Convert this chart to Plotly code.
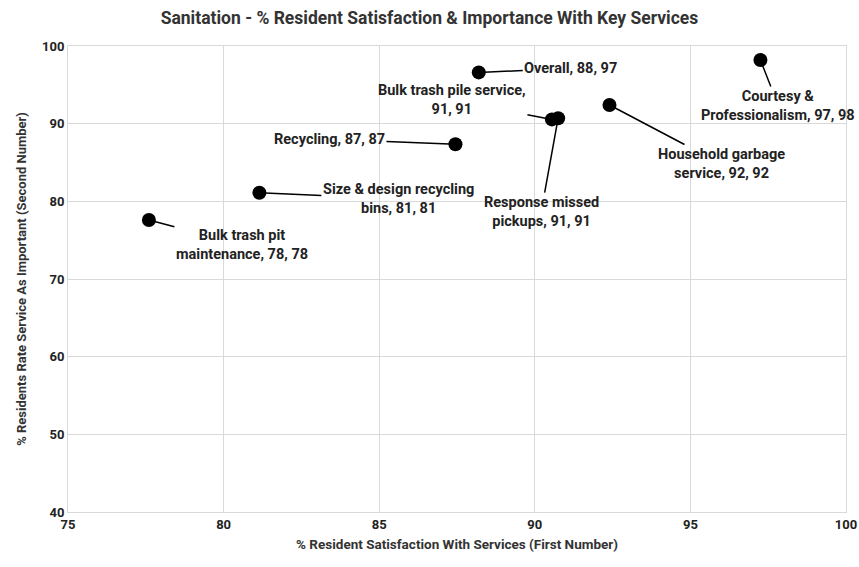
import plotly.graph_objects as go

services = ["Bulk trash pit<br>maintenance", "Size & design recycling<br>bins", "Recycling",
            "Overall", "Bulk trash pile service,<br>", "Response missed<br>pickups",
            "Household garbage<br>service", "Courtesy &<br>Professionalism"]
satisfaction = [77.6, 81.15, 87.45, 88.2, 90.55, 90.75, 92.4, 97.25]
importance = [77.6, 81.1, 87.35, 96.6, 90.55, 90.7, 92.4, 98.2]
sat_labels = [78, 81, 87, 88, 91, 91, 92, 97]
imp_labels = [78, 81, 87, 97, 91, 91, 92, 98]

# label offsets (px) from point to label centre
label_dx = [93, 139, -126, 92, -100, -17, 112, 18]
label_dy = [25, 6, -5, -4, -19, 94, 59, 46]

FONT = "Roboto, sans-serif"

fig = go.Figure()
fig.add_trace(go.Scatter(x=satisfaction, y=importance, mode="markers",
                         marker=dict(color="black", size=14), hoverinfo="skip"))

for name, xv, yv, s, i, dx, dy in zip(services, satisfaction, importance, sat_labels, imp_labels, label_dx, label_dy):
    if name.endswith(",<br>"):
        text = f"{name}{s}, {i}"
    else:
        text = f"{name}, {s}, {i}"
    fig.add_annotation(x=xv, y=yv, text=text, showarrow=True, arrowhead=0,
                       arrowwidth=1.5, arrowcolor="black", ax=dx, ay=dy, standoff=0,
                       font=dict(family=FONT, size=14.5, color="#222", weight="bold"), align="center")

grid = "#d9d9d9"
W, H = 859, 567
fig.update_layout(
    width=W, height=H,
    margin=dict(l=68, r=13, t=46, b=55, autoexpand=False),
    paper_bgcolor="white", plot_bgcolor="white",
    showlegend=False,
    title=dict(text="Sanitation - % Resident Satisfaction & Importance With Key Services",
               x=0.5, xanchor="center", y=1 - 18 / H, yanchor="middle", yref="container",
               automargin=False,
               font=dict(family=FONT, size=17.5, color="#333", weight="bold")),
    xaxis=dict(range=[75, 100], dtick=5, tick0=75, showgrid=True, gridcolor=grid, gridwidth=1,
               showline=True, linecolor=grid, mirror=True, zeroline=False, ticks="",
               automargin=False,
               tickfont=dict(family=FONT, size=13, color="#222", weight="bold"),
               title=dict(text="% Resident Satisfaction With Services (First Number)",
                          font=dict(family=FONT, size=13.5, color="#333", weight="bold"), standoff=8)),
    yaxis=dict(range=[40, 100], dtick=10, tick0=40, showgrid=True, gridcolor=grid, gridwidth=1,
               showline=True, linecolor=grid, mirror=True, zeroline=False, ticks="",
               automargin=False,
               tickfont=dict(family=FONT, size=13, color="#222", weight="bold"),
               title=dict(text="% Residents Rate Service As Important (Second Number)",
                          font=dict(family=FONT, size=13, color="#333", weight="bold"), standoff=12)),
)
fig.write_html("out.html", config={"displayModeBar": False},
               post_script="document.body.style.margin='0';document.body.style.overflow='hidden';")
